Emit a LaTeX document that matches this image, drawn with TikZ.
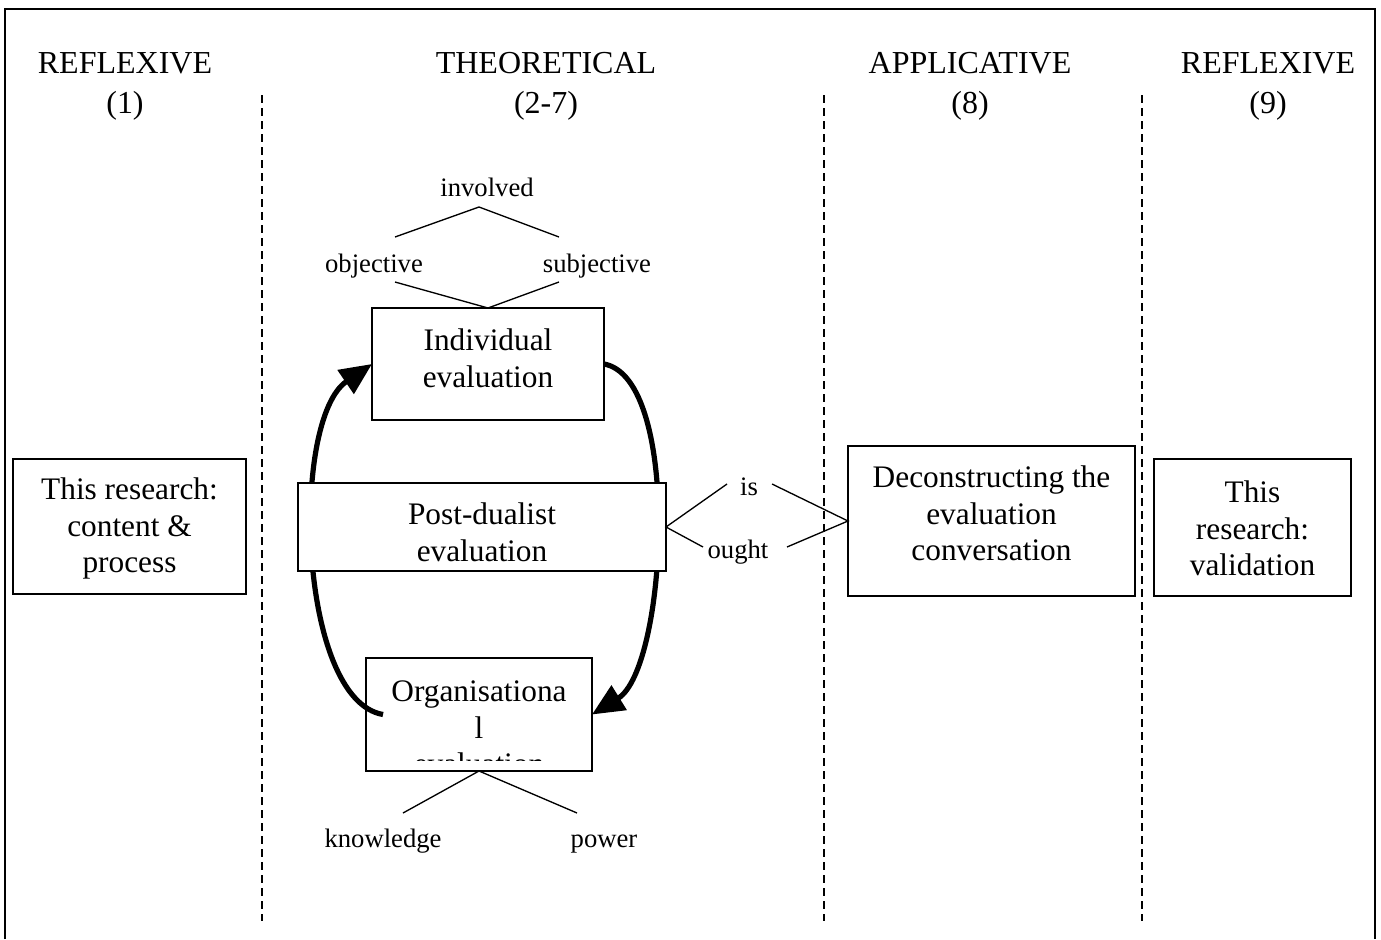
\documentclass[tikz,border=0pt]{standalone}
\usepackage{fontspec}
\setmainfont{Liberation Serif}
\usetikzlibrary{arrows.meta}
\begin{document}
\begin{tikzpicture}[x=0.75pt,y=-0.75pt,
  every node/.style={inner sep=0pt, outer sep=0pt},
  frame/.style={line width=1.5pt},
  sep/.style={line width=1.3pt, dash pattern=on 6pt off 3.75pt},
  head/.style={align=center, font=\fontsize{24}{30}\selectfont},
  box/.style={draw, line width=1pt, fill=white},
  boxtext/.style={align=center, font=\fontsize{23.5}{27.5}\selectfont},
  small/.style={anchor=base, font=\fontsize{20}{24}\selectfont},
  thin/.style={line width=1pt},
  loopline/.style={line width=3.9pt, -{Triangle[length=24pt,width=21pt]}}
]
\useasboundingbox (0,0) rectangle (1381,939);
\draw[frame] (5,939) -- (5,9) -- (1375,9) -- (1375,939);

% headers
\node[head] (h1) at (125,86) {REFLEXIVE\\(1)};
\node[head] (h2) at (546,86) {THEORETICAL\\(2-7)};
\node[head] (h3) at (970,86) {APPLICATIVE\\(8)};
\node[head] (h4) at (1268,86) {REFLEXIVE\\(9)};

% separators
\draw[sep] (262,95) -- (262,921);
\draw[sep] (824,95) -- (824,921);
\draw[sep] (1142,95) -- (1142,921);

% theoretical column
\node[box, minimum width=174pt, minimum height=84pt] (ind) at (488,364) {};
\node[boxtext] (indtext) at (488,358) {Individual\\evaluation};
\node[box, minimum width=169.5pt, minimum height=84.75pt] (org) at (479,714.5) {};
\begin{scope}
  \clip (org.north west) rectangle ([yshift=8.25pt]org.south east);
  \node[boxtext] (orgtext) at (479,728) {Organisationa\\l\\evaluation};
\end{scope}

\draw[loopline] (ind.east) .. controls (682,378) and (667,668) .. (org.east);
\draw[loopline] ([xshift=12.75pt]org.west) .. controls (298,700) and (290,420) .. (ind.west);

\node[box, minimum width=276pt, minimum height=66pt] (post) at (482,527) {};
\node[boxtext] (posttext) at (482,532) {Post-dualist\\evaluation};

% other columns
\node[box, minimum width=174.75pt, minimum height=101.25pt] (res) at (129.5,526.5) {};
\node[boxtext] (restext) at (129.5,528.5) {This research:\\content \&\\process};
\node[box, minimum width=215.25pt, minimum height=112.5pt] (dec) at (991.5,521) {};
\node[boxtext] (dectext) at (991.5,513.5) {Deconstructing the\\evaluation\\conversation};
\node[box, minimum width=147.75pt, minimum height=102.75pt] (val) at (1252.5,527.5) {};
\node[boxtext] (valtext) at (1252.5,528.5) {This\\research:\\validation};

% small labels
\node[small] (inv) at (487,196) {involved};
\node[small] (obj) at (374,272) {objective};
\node[small] (subj) at (597,272) {subjective};
\node[small] (know) at (383,847) {knowledge};
\node[small] (pow) at (604,847) {power};
\node[small] (is) at (749,495) {is};
\node[small] (ought) at (738,558) {ought};

% V connectors
\coordinate (invapex) at (479,207);
\coordinate (v1l) at (395,237);
\coordinate (v1r) at (559,237);
\draw[thin] (v1l) -- (invapex) -- (v1r);
\coordinate (v2l) at (395,282);
\coordinate (v2r) at (559,282);
\draw[thin] (v2l) -- (ind.north) -- (v2r);
\coordinate (v3l) at (403,813);
\coordinate (v3r) at (577,813);
\draw[thin] (v3l) -- (org.south) -- (v3r);
\coordinate (isl) at (727,484);
\coordinate (oughtl) at (703,547);
\draw[thin] (isl) -- (post.east) -- (oughtl);
\coordinate (isr) at (772,484);
\coordinate (oughtr) at (787,547);
\draw[thin] (isr) -- (dec.west) -- (oughtr);
\end{tikzpicture}
\end{document}
